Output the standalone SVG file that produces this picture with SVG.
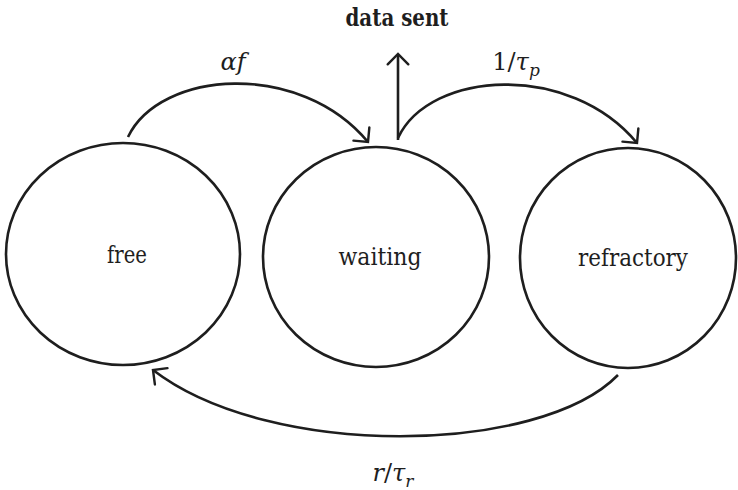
<svg xmlns="http://www.w3.org/2000/svg" width="738" height="490" viewBox="0 0 738 490">
<defs>
<style>
.node{fill:none;stroke:#1e1e1e;stroke-width:2.6}
.edge{fill:none;stroke:#1e1e1e;stroke-width:2.6}
.lbl{font-size:24px;fill:#1e1e1e;text-anchor:middle}
.math{font-size:24px;fill:#1e1e1e;text-anchor:middle}
.it{font-style:italic}
</style>
<marker id="arr" markerUnits="userSpaceOnUse" markerWidth="30" markerHeight="30" refX="0" refY="0" viewBox="-16 -16 32 32" orient="auto" overflow="visible">
<path d="M-11,-11 L0,0 L-11,11" fill="none" stroke="#1e1e1e" stroke-width="2.6" stroke-linecap="round" stroke-linejoin="miter"/>
</marker>
</defs>
<rect width="738" height="490" fill="#ffffff"/>
<g id="free">
<ellipse class="node" cx="123" cy="254" rx="117" ry="111"/>
<text class="lbl" font-family="'DejaVu Serif', 'Liberation Serif', serif" x="127" y="263" textLength="40" lengthAdjust="spacingAndGlyphs">free</text>
</g>
<g id="waiting">
<ellipse class="node" cx="376" cy="257" rx="113" ry="110"/>
<text class="lbl" font-family="'DejaVu Serif', 'Liberation Serif', serif" x="380" y="265" textLength="83" lengthAdjust="spacingAndGlyphs">waiting</text>
</g>
<g id="refractory">
<ellipse class="node" cx="628" cy="258" rx="108" ry="110"/>
<text class="lbl" font-family="'DejaVu Serif', 'Liberation Serif', serif" x="633" y="266" textLength="110" lengthAdjust="spacingAndGlyphs">refractory</text>
</g>
<g id="connectors">
<path class="edge" d="M128,137 C160,70 300,60 368,142" marker-end="url(#arr)"/>
<path class="edge" d="M398,140 L398,54" marker-end="url(#arr)"/>
<path class="edge" d="M398,138 C430,70 570,62 637,143" marker-end="url(#arr)"/>
<path class="edge" d="M618,375 C540,455 270,460 153,370" marker-end="url(#arr)"/>
</g>
<g id="labels">
<text class="lbl" font-family="'DejaVu Serif', 'Liberation Serif', serif" font-size="22" x="397" y="26" font-weight="bold" textLength="103" lengthAdjust="spacingAndGlyphs">data sent</text>
<text class="math" font-family="'DejaVu Serif', 'Liberation Serif', serif" x="233" y="70"><tspan class="it">αf</tspan></text>
<text class="math" font-family="'DejaVu Serif', 'Liberation Serif', serif" x="516" y="70">1/<tspan class="it">τ</tspan><tspan class="it" font-size="17" dy="6">p</tspan></text>
<text class="math" font-family="'DejaVu Serif', 'Liberation Serif', serif" x="393" y="481"><tspan class="it">r</tspan>/<tspan class="it">τ</tspan><tspan class="it" font-size="17" dy="6">r</tspan></text>
</g>
</svg>
